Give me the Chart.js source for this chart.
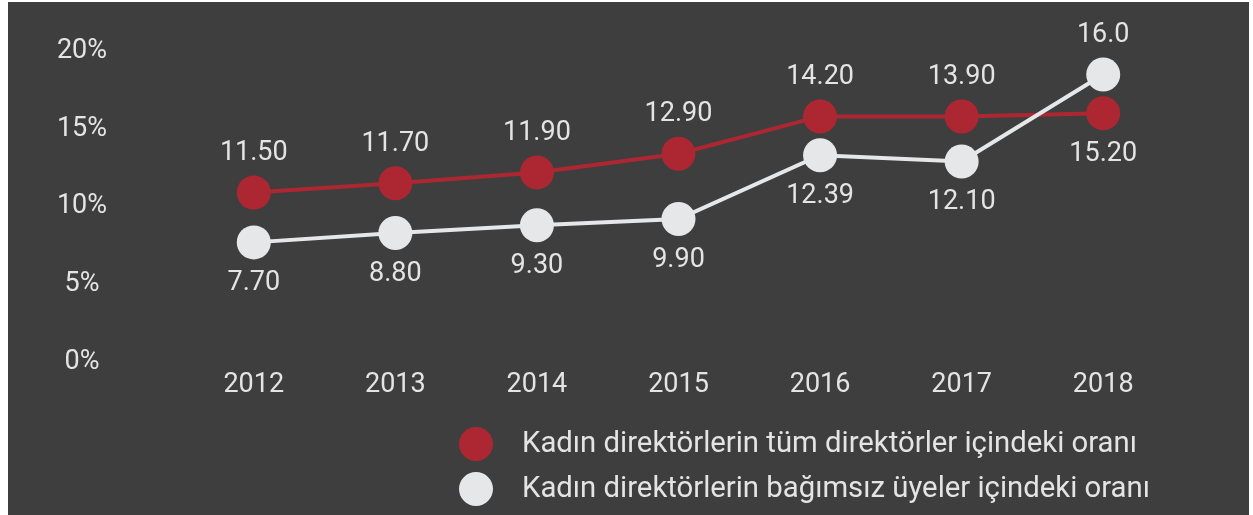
<!DOCTYPE html>
<html>
<head>
<meta charset="utf-8">
<script src="https://cdn.jsdelivr.net/npm/chart.js@4.4.0/dist/chart.umd.min.js"></script>
<style>
    html, body { margin: 0; padding: 0; background: #fff; }
    #panel { position: absolute; left: 8px; top: 2px; width: 1241px; height: 513px; background: #3e3e3e; }
    #chart { display: block; }
</style>
</head>
<body>
<div id="panel"><canvas id="chart" width="1241" height="513"></canvas></div>
<script>
(function () {
    "use strict";

    // Data
    const years = ["2012", "2013", "2014", "2015", "2016", "2017", "2018"];
    const allDirectors = [10.7, 11.3, 12.0, 13.2, 15.6, 15.6, 15.8];
    const independentMembers = [7.5, 8.1, 8.6, 9.0, 13.1, 12.7, 18.3];
    const allDirectorsText = ["11.50", "11.70", "11.90", "12.90", "14.20", "13.90", "15.20"];
    const independentText = ["7.70", "8.80", "9.30", "9.90", "12.39", "12.10", "16.0"];
    const yTicks = [0, 5, 10, 15, 20];

    const red = "#ad2732";
    const light = "#e6e7e9";
    const textColor = "#e4e4e4";
    const fontFamily = "Roboto, 'Noto Sans', sans-serif";

    Chart.defaults.font.family = fontFamily;
    Chart.defaults.font.size = 27;
    Chart.defaults.color = textColor;

    // Value labels above / below the points
    const valueLabels = {
        id: "valueLabels",
        afterDatasetsDraw(chart) {
            const ctx = chart.ctx;
            const sets = chart.data.datasets;
            ctx.save();
            ctx.font = "27px " + fontFamily;
            ctx.fillStyle = textColor;
            ctx.textAlign = "center";
            ctx.textBaseline = "middle";
            sets.forEach((ds, i) => {
                const other = sets[1 - i];
                chart.getDatasetMeta(i).data.forEach((pt, j) => {
                    const above = ds.data[j] >= other.data[j];
                    ctx.fillText(ds.valueText[j], pt.x, pt.y + (above ? -39 : 41));
                });
            });
            ctx.restore();
        },
    };

    // Legend stacked in one column
    const stackedLegend = {
        id: "stackedLegend",
        afterDraw(chart) {
            const ctx = chart.ctx;
            ctx.save();
            ctx.font = "29.3px " + fontFamily;
            ctx.textAlign = "left";
            ctx.textBaseline = "middle";
            chart.data.datasets.forEach((ds, i) => {
                const y = 442 + i * 45;
                ctx.beginPath();
                ctx.arc(468, y, 17, 0, Math.PI * 2);
                ctx.fillStyle = ds.backgroundColor;
                ctx.fill();
                ctx.fillStyle = textColor;
                ctx.fillText(ds.label, 514, y + 1);
            });
            ctx.restore();
        },
    };

    const ctx = document.getElementById("chart").getContext("2d");
    new Chart(ctx, {
        type: "line",
        data: {
            labels: years,
            datasets: [
                {
                    label: "Kadın direktörlerin tüm direktörler içindeki oranı",
                    data: allDirectors,
                    valueText: allDirectorsText,
                    borderColor: red,
                    backgroundColor: red,
                    borderWidth: 4,
                    pointRadius: 17,
                    pointHoverRadius: 17,
                    pointBorderWidth: 0,
                    tension: 0,
                    order: 1,
                },
                {
                    label: "Kadın direktörlerin bağımsız üyeler içindeki oranı",
                    data: independentMembers,
                    valueText: independentText,
                    borderColor: light,
                    backgroundColor: light,
                    borderWidth: 4,
                    pointRadius: 17,
                    pointHoverRadius: 17,
                    pointBorderWidth: 0,
                    tension: 0,
                    order: 0,
                },
            ],
        },
        options: {
            responsive: false,
            animation: false,
            layout: {
                padding: { top: 46, right: 75, bottom: 100, left: 0 },
            },
            plugins: {
                legend: { display: false },
                tooltip: { enabled: false },
            },
            scales: {
                x: {
                    offset: true,
                    grid: { display: false, drawTicks: false },
                    border: { display: false },
                    ticks: { padding: 10 },
                    afterFit: (axis) => { axis.height = 56; },
                },
                y: {
                    min: 0,
                    max: 20,
                    grid: { display: false, drawTicks: false },
                    border: { display: false },
                    afterBuildTicks: (axis) => {
                        axis.ticks = yTicks.map((v) => ({ value: v }));
                    },
                    ticks: {
                        crossAlign: "center",
                        padding: 76,
                        labelOffset: 3,
                        callback: (v) => v + "%",
                    },
                    afterFit: (axis) => {
                        axis.width = 175;
                        axis.paddingTop = 0;
                        axis.paddingBottom = 0;
                    },
                },
            },
        },
        plugins: [valueLabels, stackedLegend],
    });
})();
</script>
</body>
</html>
